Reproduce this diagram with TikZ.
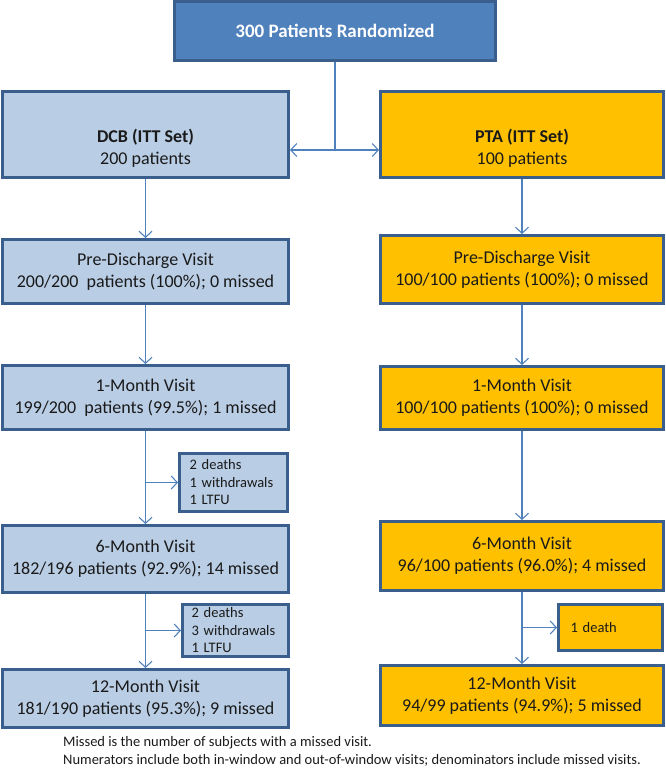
\documentclass[tikz,border=0pt]{standalone}
\usepackage{fontspec}
\setmainfont{Carlito}
\usetikzlibrary{arrows.meta}
\definecolor{topfill}{HTML}{4F81BD}
\definecolor{edgecol}{HTML}{3A5F8C}
\definecolor{dcbfill}{HTML}{B9CDE5}
\definecolor{ptafill}{HTML}{FFC000}
\definecolor{conncol}{HTML}{4F81BD}
\definecolor{txt}{HTML}{1A1A1A}
\begin{document}
\begin{tikzpicture}[x=1pt,y=1pt,
  box/.style={draw=edgecol, line width=2.6pt, rectangle, inner sep=0pt, align=center, text=txt, font=\fontsize{18}{22}\selectfont},
  topbox/.style={box, fill=topfill, text=white, font=\fontsize{19}{23}\selectfont\bfseries},
  dcb/.style={box, fill=dcbfill},
  pta/.style={box, fill=ptafill},
  smallbox/.style={font=\fontsize{14.5}{17.5}\selectfont, align=left},
  conn/.style={draw=conncol, line width=1.1pt},
  arr/.style={conn, -{Straight Barb[length=6pt,width=13pt,line width=1.1pt]}},
  note/.style={anchor=west, align=left, text=txt, font=\fontsize{14.5}{18}\selectfont, inner sep=0pt}
]
\useasboundingbox (0,0) rectangle (666,-768);

\node[topbox, minimum width=321.4pt, minimum height=59.4pt] (top) at (335,-31) {300 Patients Randomized};

\node[dcb, minimum width=286.4pt, minimum height=86.4pt] (dcbitt) at (145.5,-134.5)
  {\rule{0pt}{40pt}\textbf{DCB (ITT Set)}\\200 patients};
\node[pta, minimum width=283.4pt, minimum height=86.4pt] (ptaitt) at (522,-134.5)
  {\rule{0pt}{40pt}\textbf{PTA (ITT Set)}\\100 patients};

\node[dcb, minimum width=286.4pt, minimum height=64.4pt] (dcbpre) at (145.5,-271.5)
  {Pre-Discharge Visit\\200/200~ patients (100\%); 0 missed};
\node[pta, minimum width=283.4pt, minimum height=68.4pt] (ptapre) at (522,-269.5)
  {Pre-Discharge Visit\\100/100 patients (100\%); 0 missed};

\node[dcb, minimum width=286.4pt, minimum height=64.4pt] (dcbone) at (145.5,-397.5)
  {1-Month Visit\\199/200~ patients (99.5\%); 1 missed};
\node[pta, minimum width=283.4pt, minimum height=63.4pt] (ptaone) at (522,-398)
  {1-Month Visit\\100/100 patients (100\%); 0 missed};

\node[dcb, smallbox, minimum width=108.4pt, minimum height=58.4pt, text width=88pt] (lossone) at (233.5,-482.5)
  {2 deaths\\1 withdrawals\\1 LTFU};

\node[dcb, minimum width=286.4pt, minimum height=67.4pt] (dcbsix) at (145.5,-559)
  {6-Month Visit\\182/196 patients (92.9\%); 14 missed};
\node[pta, minimum width=283.4pt, minimum height=69.4pt] (ptasix) at (522,-556)
  {6-Month Visit\\96/100 patients (96.0\%); 4 missed};

\node[dcb, smallbox, minimum width=106.4pt, minimum height=52.4pt, text width=88pt] (losstwo) at (235.5,-630.5)
  {2 deaths\\3 withdrawals\\1 LTFU};
\node[pta, smallbox, minimum width=104.4pt, minimum height=46.4pt, text width=80pt] (ptaloss) at (610.5,-627.5)
  {1 death};

\node[dcb, minimum width=286.4pt, minimum height=58.4pt] (dcbtwelve) at (145.5,-698.5)
  {12-Month Visit\\181/190 patients (95.3\%); 9 missed};
\node[pta, minimum width=283.4pt, minimum height=60.4pt] (ptatwelve) at (522,-695.5)
  {12-Month Visit\\94/99 patients (94.9\%); 5 missed};

\node[note] (notes) at (63,-751)
  {Missed is the number of subjects with a missed visit.\\
   Numerators include both in-window and out-of-window visits; denominators include missed visits.};

% connectors
\coordinate (split) at (335,-150);
\draw[conn] (top.south) -- (split);
\draw[arr] (split) -- (split -| dcbitt.east);
\draw[arr] (split) -- (split -| ptaitt.west);

\draw[arr] (dcbitt.south) -- (dcbpre.north);
\draw[arr] (dcbpre.south) -- (dcbone.north);
\draw[arr] (dcbone.south) -- (dcbsix.north);
\draw[arr] (dcbone.south |- lossone.west) -- (lossone.west);
\draw[arr] (dcbsix.south) -- (dcbtwelve.north);
\draw[arr] (dcbsix.south |- losstwo.west) -- (losstwo.west);

\draw[arr] (ptaitt.south) -- (ptapre.north);
\draw[arr] (ptapre.south) -- (ptaone.north);
\draw[arr] (ptaone.south) -- (ptasix.north);
\draw[arr] (ptasix.south) -- (ptatwelve.north);
\draw[arr] (ptasix.south |- ptaloss.west) -- (ptaloss.west);
\end{tikzpicture}
\end{document}
